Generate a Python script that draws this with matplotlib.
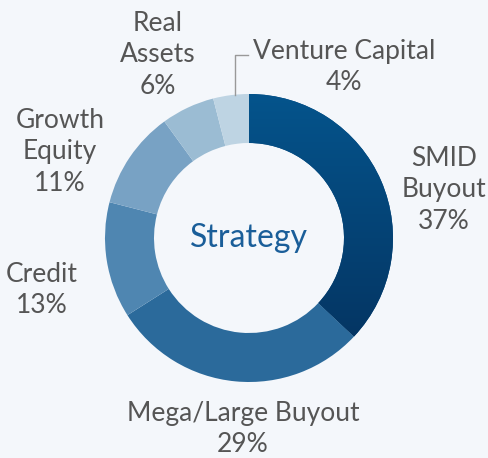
import numpy as np
import matplotlib
matplotlib.use("Agg")
import matplotlib.pyplot as plt
from matplotlib.colors import LinearSegmentedColormap

# Data
labels = ["SMID\nBuyout", "Mega/Large Buyout", "Credit", "Growth\nEquity", "Real\nAssets", "Venture Capital"]
shares = [37, 29, 13, 11, 6, 4]
colors = ["#064a80", "#2b6a9b", "#4f86b1", "#78a2c4", "#9bbcd3", "#bed4e3"]

# Layout (pixels, y from bottom)
W, H = 489, 458
cx, cy = 249, H - 238
r_out, r_in = 144, 95
label_xy = [(444, H - 190), (243, H - 429), (42, H - 290), (60, H - 152), (158, H - 55), (344, H - 67)]
txt_color = "#555555"

plt.rcParams["font.family"] = ["Lato", "DejaVu Sans"]

fig = plt.figure(figsize=(W / 100, H / 100), dpi=100)
fig.patch.set_facecolor("#f4f7fb")
ax = fig.add_axes([0, 0, 1, 1])

wedges, _ = ax.pie(shares, colors=colors, startangle=90, counterclock=False,
                   center=(cx, cy), radius=r_out, frame=True,
                   wedgeprops=dict(width=r_out - r_in, linewidth=0))
ax.set_xlim(0, W)
ax.set_ylim(0, H)
ax.set_aspect("equal")
ax.axis("off")

# gradient on the biggest slice
cmap = LinearSegmentedColormap.from_list("g", ["#05305c", "#04548c"])
grad = np.linspace(0, 1, 256).reshape(-1, 1)
im = ax.imshow(grad, cmap=cmap, origin="lower", aspect="auto",
               extent=[cx, cx + r_out, cy - r_out, cy + r_out], zorder=wedges[0].get_zorder() + 0.1)
im.set_clip_path(wedges[0])

# labels
for lab, s, (x, y) in zip(labels, shares, label_xy):
    ax.text(x, y, f"{lab}\n{s}%", ha="center", va="center", fontsize=19,
            color=txt_color, linespacing=1.32)

# leader for Venture Capital
ax.plot([235, 235, 248], [H - 95, H - 55, H - 55], color="#999999", lw=1)

ax.text(cx, cy, "Strategy", ha="center", va="center", fontsize=23, color="#1a5e99")

fig.savefig("out.png", dpi=100, facecolor=fig.get_facecolor())
